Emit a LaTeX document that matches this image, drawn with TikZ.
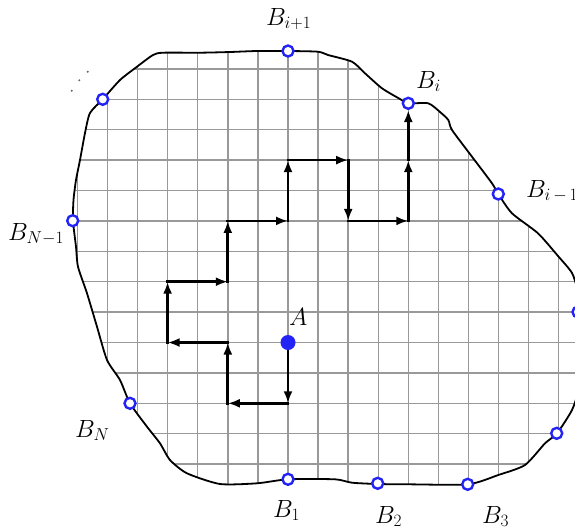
\documentclass[tikz,border=0pt]{standalone}
\usetikzlibrary{arrows.meta}
\definecolor{bblue}{RGB}{35,35,245}
\begin{document}
\begin{tikzpicture}[x=1pt,y=-1pt,
  gridline/.style={line width=1.4pt, draw=black!40},
  border/.style={line width=1.8pt, draw=black},
  walk/.style={line width=2.7pt, line cap=rect, -{Latex[length=12pt,width=9pt]}},
  bpt/.style={circle, draw=bblue, line width=2.4pt, minimum size=11pt, inner sep=0pt, fill=white},
  apt/.style={circle, fill=bblue, minimum size=15pt, inner sep=0pt},
  lab/.style={anchor=base west, inner sep=0pt, font=\fontsize{24}{24}\selectfont}]
\useasboundingbox (0,0) rectangle (575,531);
\clip (0,0) rectangle (575,531);
\path[save path=\bpath] plot[smooth cycle, tension=0.4] coordinates {
 (288,51) (318,51.7) (328,55) (352,61.7) (365,73.3) (382,88.3) (400,99) (408.3,103.3)
 (428.3,103.3) (440,112) (448.3,120) (452,130) (472,156.7) (492,183.3) (498.3,194)
 (512,213.3) (538,233.3) (558,256) (572,273) (578,292) (580,312) (580,350) (578,390)
 (572,410) (557,433.3) (545,443.3) (525,465) (498.3,475) (468,484.3) (408,484.3)
 (378,484) (352,482.7) (335,479.3) (288,479.3) (257,483.3) (220,484) (187,473.3)
 (170,460) (160,443.3) (147,426.7) (130,403.3) (120,380) (107,360) (97,326.7)
 (87,293.3) (78,266.7) (76,246.7) (73,220.7) (73.5,200) (76,180) (80,160) (85,133)
 (90,113) (103,99) (120,80) (137,66.7) (153,55) (163,52.7) (200,52.7) (230,52) (257,51)};
\begin{scope}
  \clip[use path=\bpath];
  \foreach \i in {-8,...,10} \draw[gridline] ({288+30.07*\i},0) -- ({288+30.07*\i},531);
  \foreach \j in {-10,...,6} \draw[gridline] (0,{342.5+30.4*\j}) -- (600,{342.5+30.4*\j});
\end{scope}
\draw[border, use path=\bpath];
% walk corners
\coordinate (w1) at (288,403.3);
\coordinate (w2) at (227.8,403.3);
\coordinate (w3) at (227.8,342.5);
\coordinate (w4) at (167.6,342.5);
\coordinate (w5) at (167.6,281.7);
\coordinate (w6) at (227.8,281.7);
\coordinate (w7) at (227.8,220.9);
\coordinate (w8) at (288,220.9);
\coordinate (w9) at (288,160.1);
\coordinate (w10) at (348.2,160.1);
\coordinate (w11) at (348.2,220.9);
\coordinate (w12) at (408.3,220.9);
\coordinate (w13) at (408.3,160.1);
% boundary points
\node[bpt] (bip1) at (288,51) {};
\node[bpt] (bi) at (408.3,103.3) {};
\node[bpt] (bim1) at (498.3,194) {};
\node[bpt] (br) at (578,312) {};
\node[bpt] (blr) at (556.7,433.3) {};
\node[bpt] (b3) at (467.7,484.3) {};
\node[bpt] (b2) at (377.7,483.3) {};
\node[bpt] (b1) at (288,479.3) {};
\node[bpt] (bn) at (130,403.3) {};
\node[bpt] (bnm1) at (72.7,220.7) {};
\node[bpt] (btl) at (102.7,99.3) {};
% walk
\draw[walk] (288,342.5) -- (w1);
\draw[walk] (w1) -- (w2);
\draw[walk] (w2) -- (w3);
\draw[walk] (w3) -- (w4);
\draw[walk] (w4) -- (w5);
\draw[walk] (w5) -- (w6);
\draw[walk] (w6) -- (w7);
\draw[walk] (w7) -- (w8);
\draw[walk] (w8) -- (w9);
\draw[walk] (w9) -- (w10);
\draw[walk] (w10) -- (w11);
\draw[walk] (w11) -- (w12);
\draw[walk] (w12) -- (w13);
\draw[walk] (w13) -- (bi);
\node[apt] (a) at (288,342.5) {};
% dots
\fill[black!60] (71.7,90.7) circle (1.1) (79.3,80.3) circle (1.1) (87.7,71.7) circle (1.1);
% labels
\node[lab] (lbip1) at (266,25) {$B_{i+1}$};
\node[lab] (lbi) at (416,88) {$B_i$};
\node[lab] (lbim1) at (526,197) {$B_{i\,-\,1}$};
\node[lab] (lbnm1) at (8,240) {$B_{N-1}$};
\node[lab] (lbn) at (75,437) {$B_N$};
\node[lab] (la) at (289,325) {$A$};
\node[lab] (lb1) at (273,517) {$B_1$};
\node[lab] (lb2) at (375,523) {$B_2$};
\node[lab] (lb3) at (482,523) {$B_3$};
\end{tikzpicture}
\end{document}
